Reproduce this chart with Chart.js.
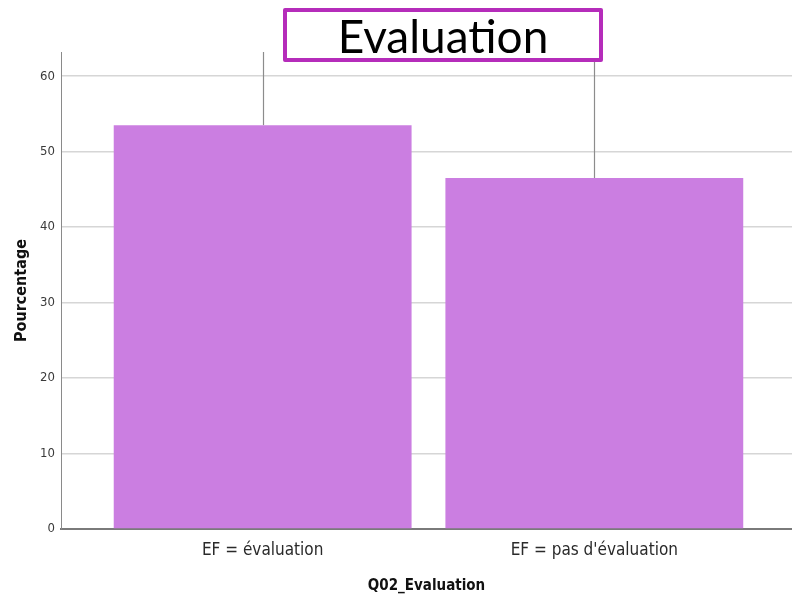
<!DOCTYPE html>
<html lang="fr">
<head>
    <meta charset="UTF-8">
    <title>Q02_Evaluation</title>
    <script src="https://cdn.jsdelivr.net/npm/chart.js"></script>
    <style>
        body { margin: 0; padding: 0; background: #ffffff; }
        #wrap { width: 792px; height: 597px; }
    </style>
</head>
<body>
    <div id="wrap"><canvas id="chart" width="792" height="597"></canvas></div>

    <script>
        // Data
        const categories = ['EF = évaluation', "EF = pas d'évaluation"];
        const percentages = [53.5, 46.5];
        const errorUpper = [68, 66];   // upper ends of the error bars (cut off by the plot top)
        const yTicks = [0, 10, 20, 30, 40, 50, 60];

        const axisFont = "'DejaVu Sans Condensed', 'Liberation Sans Narrow', 'Liberation Sans', sans-serif";

        // error bars drawn before the bars so the lower part hides behind them
        const errorBars = {
            id: 'errorBars',
            beforeDatasetsDraw(chart) {
                const ctx = chart.ctx, x = chart.scales.x, y = chart.scales.y, a = chart.chartArea;
                ctx.save();
                ctx.beginPath();
                ctx.rect(a.left, a.top, a.right - a.left, a.bottom - a.top);
                ctx.clip();
                ctx.strokeStyle = '#8c8c8c';
                ctx.lineWidth = 1.2;
                percentages.forEach((v, i) => {
                    const px = Math.round(x.getPixelForValue(i)) + 0.5;
                    ctx.beginPath();
                    ctx.moveTo(px, y.getPixelForValue(v));
                    ctx.lineTo(px, y.getPixelForValue(errorUpper[i]));
                    ctx.stroke();
                });
                ctx.restore();
            }
        };

        // boxed title over the top of the plot
        const titleBox = {
            id: 'titleBox',
            afterDraw(chart) {
                const ctx = chart.ctx;
                ctx.save();
                ctx.fillStyle = '#ffffff';
                ctx.fillRect(285, 10, 316, 50);
                ctx.strokeStyle = '#b52cba';
                ctx.lineWidth = 4;
                ctx.lineJoin = 'round';
                ctx.strokeRect(285, 10, 316, 50);
                ctx.fillStyle = '#000000';
                ctx.font = "46px Lato, 'Open Sans', sans-serif";
                ctx.textAlign = 'center';
                ctx.textBaseline = 'alphabetic';
                ctx.fillText('Evaluation', 443, 53);
                ctx.restore();
            }
        };

        new Chart(document.getElementById('chart'), {
            type: 'bar',
            data: {
                datasets: [{
                    data: percentages.map((v, i) => ({ x: i, y: v })),
                    backgroundColor: '#cb7ee1',
                    borderWidth: 0,
                    categoryPercentage: 1,
                    barPercentage: 0.898
                }]
            },
            options: {
                responsive: false,
                animation: false,
                layout: { padding: { top: 52, right: 0, left: 0, bottom: 0 } },
                plugins: { legend: { display: false }, tooltip: { enabled: false } },
                scales: {
                    x: {
                        type: 'linear',
                        offset: false,
                        min: -0.608,
                        max: 1.596,
                        afterBuildTicks: s => { s.ticks = categories.map((c, i) => ({ value: i })); },
                        afterFit: s => { s.height = 68; },
                        grid: { display: false },
                        border: { display: true, color: '#7a7a7a', width: 2 },
                        ticks: {
                            callback: v => categories[v],
                            color: '#2a2a2a',
                            padding: 3,
                            maxRotation: 0,
                            autoSkip: false,
                            font: { family: axisFont, size: 17 }
                        },
                        title: {
                            display: true,
                            text: 'Q02_Evaluation',
                            color: '#111111',
                            padding: { top: 10, bottom: 2 },
                            font: { family: axisFont, size: 15, weight: 'bold' }
                        }
                    },
                    y: {
                        min: 0,
                        max: 63.2,
                        afterBuildTicks: s => { s.ticks = yTicks.map(v => ({ value: v })); },
                        afterFit: s => { s.width = 61; },
                        grid: { color: '#d6d6d6', lineWidth: 1.5, drawTicks: false },
                        border: { display: true, color: '#8a8a8a', width: 1 },
                        ticks: {
                            color: '#3a3a3a',
                            padding: 6,
                            font: { family: axisFont, size: 13 }
                        },
                        title: {
                            display: true,
                            text: 'Pourcentage',
                            color: '#111111',
                            padding: { top: 12, bottom: 10 },
                            font: { family: axisFont, size: 16, weight: 'bold' }
                        }
                    }
                }
            },
            plugins: [errorBars, titleBox]
        });
    </script>
</body>
</html>
